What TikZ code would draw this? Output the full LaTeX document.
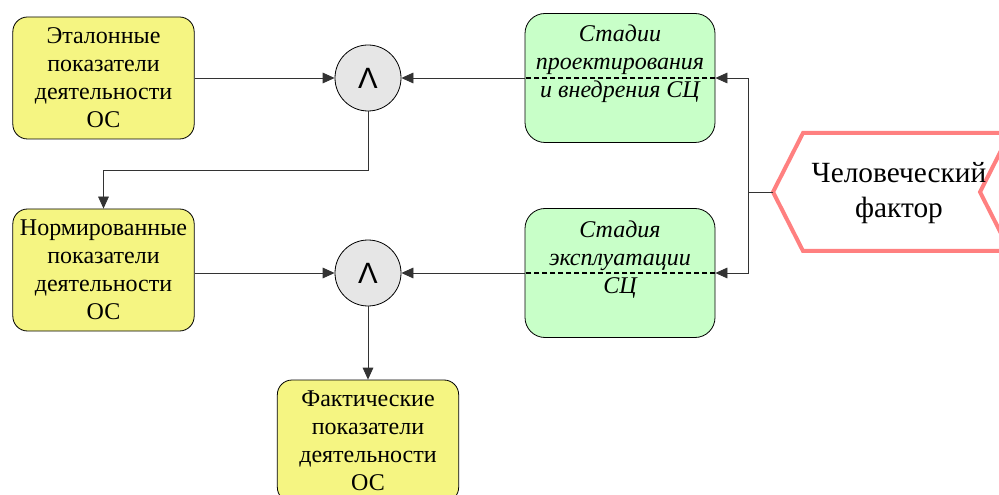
\documentclass[tikz,border=0pt]{standalone}
\usepackage{fontspec}
\setmainfont{Liberation Serif}
\newfontfamily\opfont{Liberation Sans}
\usetikzlibrary{arrows.meta}

\definecolor{indyellow}{RGB}{245,245,130}
\definecolor{stagegreen}{RGB}{200,255,200}
\definecolor{opgray}{RGB}{230,230,230}
\definecolor{factorred}{RGB}{255,128,128}

\tikzset{
  indbox/.style={draw, fill=indyellow, rounded corners=11pt, line width=0.6pt,
    minimum width=136pt, minimum height=91.5pt, inner sep=0pt, align=center,
    font=\fontsize{18}{21}\selectfont},
  stagebox/.style={draw, fill=stagegreen, rounded corners=15pt, line width=0.6pt,
    minimum width=142.5pt, minimum height=96.75pt},
  stagetext/.style={anchor=north, inner sep=0pt, align=center,
    font=\fontsize{18}{21}\selectfont\itshape},
  opnode/.style={circle, draw, fill=opgray, line width=0.6pt, minimum size=49.5pt,
    inner sep=0pt, font=\opfont\fontsize{22}{22}\selectfont},
  arr/.style={draw=black!80, line width=0.6pt, -{Triangle[length=9pt,width=8pt]}},
  dashline/.style={line width=0.9pt, dash pattern=on 4pt off 2pt}
}

\begin{document}
\begin{tikzpicture}[x=0.75pt,y=0.75pt,yscale=-1,xscale=1]
\useasboundingbox (0,0) rectangle (999,495);
\clip (0,0) rectangle (999,495);

%Shape: Yellow boxes
\node[indbox] (etalon) at (103.5,78) {Эталонные\\показатели\\деятельности\\ОС};
\node[indbox] (norm) at (103.5,270) {Нормированные\\показатели\\деятельности\\ОС};
\node[indbox] (fact) at (368,441) {Фактические\\показатели\\деятельности\\ОС};

%Shape: Operators
\node[opnode] (opA) at (368,78) {Λ};
\node[opnode] (opB) at (368,273) {Λ};

%Shape: Green boxes
\node[stagebox] (design) at (620,78) {};
\node[stagetext] (designtxt) at (620,25) {Стадии\\проектирования\\и внедрения СЦ};
\node[stagebox] (operate) at (620,273) {};
\node[stagetext] (operatetxt) at (620,221) {Стадия\\эксплуатации\\СЦ};

%Shape: Chevron
\draw[factorred, line width=3pt, miter limit=10] (773,192) -- (803,133) -- (1010,133) -- (980,192) -- (1010,251) -- (803,251) -- cycle;
\coordinate (tip) at (773,192);
\coordinate (hub) at (748,192);
% Text Node
\node[align=center, inner sep=0pt, font=\fontsize{22}{26}\selectfont] (human) at (899,193) {Человеческий\\фактор};

%Straight Lines
\draw[arr] (etalon.east) -- (opA.west);
\draw[arr] (opA.south) -- ++(0,59) -| (norm.north);
\draw[arr] (norm.east |- opB.west) -- (opB.west);
\draw[arr] (opB.south) -- (fact.north);
\draw[arr] (design.west) -- (opA.east);
\draw[arr] (operate.west) -- (opB.east);
\draw[dashline] (design.east) -- (design.west);
\draw[dashline] (operate.east) -- (operate.west);
\draw[line width=0.6pt, black!80] (tip) -- (hub);
\draw[arr] (hub) |- (design.east);
\draw[arr] (hub) |- (operate.east);

\end{tikzpicture}
\end{document}
